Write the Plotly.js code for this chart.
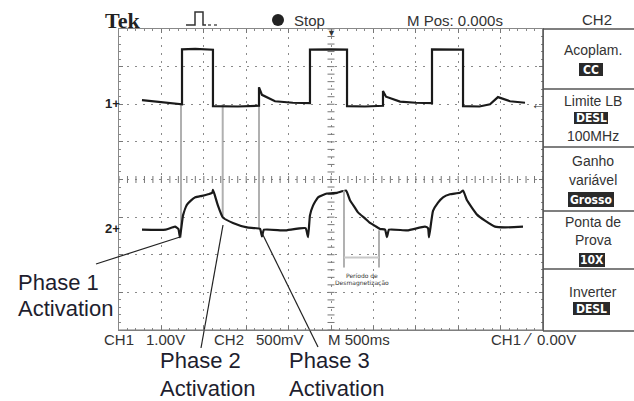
<!DOCTYPE html>
<html><head><meta charset="utf-8">
<script src="https://cdn.plot.ly/plotly-3.0.1.min.js"></script>
<style>html,body{margin:0;padding:0;background:#fff}#chart{width:634px;height:401px}</style>
</head><body><div id="chart"></div>
<script>
// Channel 1 (1.00 V/div), time in s (500 ms/div, M Pos 0.000 s)
const ch1Time = [-2.229,-2.0,-1.757,-1.757,-1.6,-1.392,-1.392,-1.1,-0.849,-0.849,-0.814,-0.66,-0.45,-0.248,-0.248,0.0,0.189,0.189,0.4,0.613,0.613,0.649,0.814,1.0,1.191,1.191,1.4,1.557,1.557,1.75,1.875,1.969,2.111,2.288];
const ch1Volt = [0.11,0.06,0.0,1.46,1.47,1.45,-0.05,-0.06,-0.04,0.45,0.25,0.08,0.04,0.03,1.45,1.46,1.45,-0.05,-0.06,-0.04,0.35,0.2,0.07,0.04,0.03,1.46,1.46,1.45,-0.05,-0.06,0.0,0.19,0.08,0.04];
// Channel 2 (500 mV/div)
const ch2Time = [-2.229,-1.95,-1.84,-1.80,-1.781,-1.745,-1.70,-1.65,-1.60,-1.52,-1.45,-1.40,-1.392,-1.368,-1.333,-1.274,-1.156,-0.991,-0.837,-0.814,-0.790,-0.55,-0.30,-0.271,-0.248,-0.212,-0.153,-0.047,0.071,0.177,0.224,0.283,0.318,0.401,0.460,0.519,0.578,0.637,0.660,0.684,0.9,1.108,1.144,1.156,1.203,1.262,1.321,1.403,1.521,1.557,1.604,1.663,1.722,1.816,1.934,2.052,2.264];
const ch2Volt = [0.0,0.0,0.04,0.01,-0.1,0.19,0.33,0.39,0.43,0.45,0.47,0.49,0.53,0.45,0.32,0.16,0.09,0.03,0.01,-0.09,0.0,-0.01,0.02,-0.1,0.19,0.32,0.43,0.48,0.49,0.52,0.39,0.29,0.23,0.15,0.09,0.05,0.01,0.0,-0.1,0.0,-0.01,0.04,0.02,-0.1,0.25,0.36,0.43,0.47,0.49,0.52,0.39,0.29,0.2,0.12,0.04,0.03,0.04];
// Activation cursors (time, ch1-volt top, ch1-volt bottom)
const activationTime = [-1.769,-1.277,-0.849];
const activationTop = [0.0,0.0,0.45];
const activationBottom = [-3.54,-3.0,-3.30];
// Demagnetisation period cursors
const demagTime = [0.153,0.566];
const demagTop = [-2.29,-3.35];
const demagBottom = -4.34;
const demagBar = -4.07;
const phaseLabels = ["Phase 1","Phase 2","Phase 3"];
const panelTitles = [["Acoplam."],["Limite LB"],["Ganho","variável"],["Ponta de","Prova"],["Inverter"]];
const panelValues = ["CC","DESL","Grosso","10X","DESL"];

const W=634,H=401;
const P=x=>x/W, Q=y=>1-y/H;
const TXT='#333';

const traces=[
 {x:ch1Time,y:ch1Volt,type:'scatter',mode:'lines',line:{color:'#1a1a1a',width:2.2},yaxis:'y',hoverinfo:'skip'},
 {x:ch2Time,y:ch2Volt,type:'scatter',mode:'lines',line:{color:'#1a1a1a',width:2.2,shape:'spline',smoothing:0.4},yaxis:'y2',hoverinfo:'skip'}
];
// centre-line minor ticks
const cx=[],cy=[],vx=[],vy=[];
for(let i=0;i<=50;i++){cx.push(-2.5+i*0.1);cy.push(-2);}
for(let i=0;i<=40;i++){vx.push(0);vy.push(-6+i*0.2);}
traces.push({x:cx,y:cy,mode:'markers',marker:{symbol:'line-ns',size:5,line:{width:1,color:'#777'}},hoverinfo:'skip'});
traces.push({x:vx,y:vy,mode:'markers',marker:{symbol:'line-ew',size:5,line:{width:1,color:'#777'}},hoverinfo:'skip'});

const shapes=[];
const gline={color:'#b0b0b0',width:2};
activationTime.forEach((t,i)=>shapes.push({type:'line',xref:'x',yref:'y',x0:t,x1:t,y0:activationTop[i],y1:activationBottom[i],line:gline,layer:'below'}));
demagTime.forEach((t,i)=>shapes.push({type:'line',xref:'x',yref:'y',x0:t,x1:t,y0:demagTop[i],y1:demagBottom,line:gline}));
shapes.push({type:'line',xref:'x',yref:'y',x0:demagTime[0],x1:demagTime[1],y0:demagBar,y1:demagBar,line:{color:'#c8c8c8',width:2}});
// pointer lines for phase labels
const pl={color:'#222',width:1.2};
[[96,264,180,237],[223,225,201,348],[262,233,318,347]].forEach(s=>shapes.push({type:'line',xref:'paper',yref:'paper',x0:P(s[0]),y0:Q(s[1]),x1:P(s[2]),y1:Q(s[3]),line:pl}));
// right panel frame
shapes.push({type:'line',xref:'paper',yref:'paper',x0:P(543),x1:P(543),y0:Q(29),y1:Q(331),line:{color:'#555',width:1.5}});
[29,89,147,211,269,331].forEach(y=>shapes.push({type:'line',xref:'paper',yref:'paper',x0:P(543),x1:P(634),y0:Q(y),y1:Q(y),line:{color:'#555',width:1.5}}));
shapes.push({type:'line',xref:'paper',yref:'paper',x0:P(119),x1:P(543),y0:Q(330),y1:Q(330),line:{color:'#777',width:1}});
// inverse boxes
const boxes=[[579,603,63,76],[574,608,112,124],[568,614,192,207],[579,605,253,267],[573,610,302,315]];
boxes.forEach(b=>shapes.push({type:'rect',xref:'paper',yref:'paper',x0:P(b[0]),x1:P(b[1]),y0:Q(b[3]),y1:Q(b[2]),fillcolor:'#2a2a2a',line:{width:0}}));
// stop dot
shapes.push({type:'circle',xref:'paper',yref:'paper',x0:P(272),x1:P(284),y0:Q(26),y1:Q(14),fillcolor:'#222',line:{width:0}});
// pulse icon
shapes.push({type:'path',xref:'paper',yref:'paper',path:`M ${P(186)} ${Q(25)} L ${P(195)} ${Q(25)} L ${P(195)} ${Q(12)} L ${P(203)} ${Q(12)} L ${P(203)} ${Q(25)} L ${P(206)} ${Q(25)}`,line:{color:'#333',width:1.5}});
shapes.push({type:'path',xref:'paper',yref:'paper',path:`M ${P(208)} ${Q(25)} L ${P(217)} ${Q(25)}`,line:{color:'#555',width:1.5,dash:'dot'}});

const ann=[];
function T(text,x,y,size,opts){ann.push(Object.assign({text:text,x:P(x),y:Q(y),xref:'paper',yref:'paper',showarrow:false,xanchor:'left',yanchor:'middle',font:{family:'Liberation Sans, Arial, sans-serif',size:size,color:TXT}},opts||{}));}
T('Tek',103,20,22,{font:{family:'Liberation Serif, serif',size:22,color:'#222',weight:'bold'}});
T('Stop',292,20,15);
T('M Pos: 0.000s',405,20,15);
T('CH2',597,19,15,{xanchor:'center'});
// panel
const titleY=[[50],[101],[161,180],[222,240],[292]];
const valueY=[69.5,118,199.5,260,308.5];
const valueX=[591,591,591,592,591.5];
panelTitles.forEach((arr,i)=>arr.forEach((s,j)=>T(s,593,titleY[i][j],14,{xanchor:'center'})));
panelValues.forEach((s,i)=>T(s,valueX[i],valueY[i],12,{xanchor:'center',font:{family:'DejaVu Sans Condensed, DejaVu Sans, sans-serif',size:12,color:'#fff',weight:'bold'}}));
T('100MHz',593,136,14,{xanchor:'center'});
// bottom status row
T('CH1',102,339,15);T('1.00V',144,339,15);
T('CH2',212,339,15);T('500mV',254,339,15);
T('M 500ms',326,339,15);
T('CH1',489,339,15);T('⁄',521,339,16);T('0.00V',535,339,15);
// channel markers
T('1+',103,103,13,{font:{family:'Liberation Sans, sans-serif',size:13,color:'#222',weight:'bold'}});
T('2+',103,229,13,{font:{family:'Liberation Sans, sans-serif',size:13,color:'#222',weight:'bold'}});
T('▼',331,33,9,{xanchor:'center',font:{size:9,color:'#333'}});
T('←',538,103,14,{xanchor:'center',font:{size:14,color:'#333'}});
// demag label
T('Período de',362,275,6,{xanchor:'center',font:{size:6,color:'#333',family:'DejaVu Sans'}});
T('Desmagnetização',362,283,6,{xanchor:'center',font:{size:6,color:'#333',family:'DejaVu Sans'}});
// phase labels
const lblPos=[[16,282,308],[158,360,388],[287,360,388]];
const lf={family:'Liberation Sans, Arial, sans-serif',size:22,color:'#1e1e2e'};
phaseLabels.forEach((s,i)=>{T(s,lblPos[i][0],lblPos[i][1],22,{font:lf});T('Activation',lblPos[i][0],lblPos[i][2],22,{font:lf});});

const axCommon={showgrid:true,griddash:'2px,6px',gridcolor:'#8a8a8a',gridwidth:1,zeroline:false,showticklabels:false,showline:true,linecolor:'#888',linewidth:1,mirror:'ticks',ticks:'inside',ticklen:4,tickcolor:'#777'};
const layout={width:W,height:H,margin:{l:0,r:0,t:0,b:0},paper_bgcolor:'#fff',plot_bgcolor:'#fff',showlegend:false,
 xaxis:Object.assign({},axCommon,{domain:[P(119),P(543)],range:[-2.5,2.5],dtick:0.5,tick0:0,minor:{dtick:0.1,ticks:'inside',ticklen:2,tickcolor:'#888',showgrid:false}}),
 yaxis:Object.assign({},axCommon,{domain:[Q(330),Q(29)],range:[-6,2],dtick:1,tick0:0,minor:{dtick:0.2,ticks:'inside',ticklen:2,tickcolor:'#888',showgrid:false}}),
 yaxis2:{overlaying:'y',range:[-1.3333,2.6667],visible:false,showgrid:false,zeroline:false},
 shapes:shapes,annotations:ann};
Plotly.newPlot('chart',traces,layout,{staticPlot:true,displayModeBar:false});
</script></body></html>
